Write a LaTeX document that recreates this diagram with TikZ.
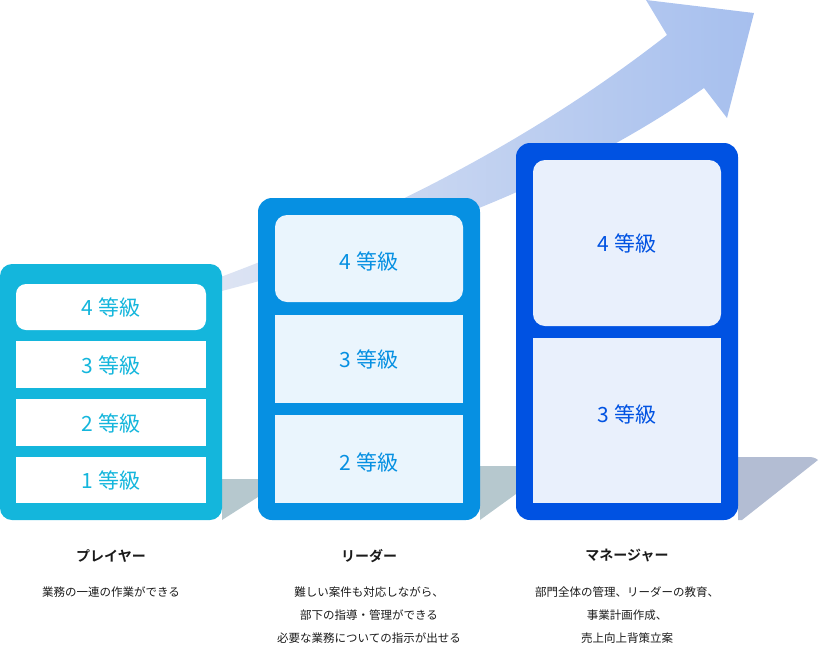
\documentclass[tikz,border=0pt]{standalone}
\usepackage{fontspec}
\setmainfont{Noto Sans CJK JP}
\newfontfamily\jpb{Noto Sans CJK JP Bold}
\definecolor{cpl}{HTML}{14B6DC}
\definecolor{cld}{HTML}{0690E2}
\definecolor{cmg}{HTML}{0052E2}
\definecolor{fld}{HTML}{EAF5FD}
\definecolor{fmg}{HTML}{E9F0FC}
\definecolor{sh1}{HTML}{B6C8CE}
\definecolor{sh2}{HTML}{B3BDD3}
\definecolor{ar1}{HTML}{DDE4F3}
\definecolor{ar2}{HTML}{A6BFEE}
\definecolor{txt}{HTML}{1A1A1A}
\begin{document}
\begin{tikzpicture}[x=1pt,y=-1pt,
  grade/.style={font=\fontsize{21}{21}\selectfont},
  title/.style={font=\jpb\fontsize{14}{14}\selectfont, text=txt},
  desc/.style={font=\fontsize{11.5}{23}\selectfont, text=txt, align=center}]
\useasboundingbox (0,0) rectangle (820,646);
% shadows
\fill[sh1] (222,479) -- (258,479) -- (258,497) -- (222,520) -- cycle;
\fill[sh1] (480,466) -- (516,466) -- (516,494) -- (480,520) -- cycle;
\fill[sh2] (738,457) -- (808,457) to[out=0,in=140] (818,460) -- (742,520) -- (738,520) -- cycle;
% arrow
\shade[left color=ar1, right color=ar2]
  (218,278) .. controls (360,225) and (520,150) .. (667,35)
  -- (646,0) -- (754,13) -- (727,118) -- (704,88)
  .. controls (560,190) and (380,250) .. (218,292) -- cycle;
% player
\fill[cpl, rounded corners=12pt] (0,520) -- (0,264) -- (222,264) -- (222,520) -- cycle;
\fill[white, rounded corners=10pt] (16,330) -- (16,284) -- (206,284) -- (206,330) -- cycle;
\fill[white] (16,341) rectangle (206,388);
\fill[white] (16,399) rectangle (206,446);
\fill[white] (16,457) rectangle (206,503);
\node[grade,text=cpl] (p4) at (111,307) {4 等級};
\node[grade,text=cpl] (p3) at (111,365) {3 等級};
\node[grade,text=cpl] (p2) at (111,423) {2 等級};
\node[grade,text=cpl] (p1) at (111,480) {1 等級};
% leader
\fill[cld, rounded corners=14pt] (258,520) -- (258,198) -- (480,198) -- (480,520) -- cycle;
\fill[fld, rounded corners=12pt] (275,302) -- (275,215) -- (463,215) -- (463,302) -- cycle;
\fill[fld] (275,315) rectangle (463,403);
\fill[fld] (275,415) rectangle (463,503);
\node[grade,text=cld] (l4) at (369,261) {4 等級};
\node[grade,text=cld] (l3) at (369,359) {3 等級};
\node[grade,text=cld] (l2) at (369,462) {2 等級};
% manager
\fill[cmg, rounded corners=14pt] (516,520) -- (516,143) -- (738,143) -- (738,520) -- cycle;
\fill[fmg, rounded corners=12pt] (533,326) -- (533,160) -- (721,160) -- (721,326) -- cycle;
\fill[fmg] (533,338) rectangle (721,503);
\node[grade,text=cmg] (m4) at (627,243) {4 等級};
\node[grade,text=cmg] (m3) at (627,414) {3 等級};
% titles
\node[title] (tp) at (111,556) {プレイヤー};
\node[title] (tl) at (369,556) {リーダー};
\node[title] (tm) at (627,556) {マネージャー};
\node[desc,anchor=north] (dp) at (111,583) {業務の一連の作業ができる};
\node[desc,anchor=north] (dl) at (369,583) {難しい案件も対応しながら、\\部下の指導・管理ができる\\必要な業務についての指示が出せる};
\node[desc,anchor=north] (dm) at (627,583) {部門全体の管理、リーダーの教育、\\事業計画作成、\\売上向上背策立案};
\end{tikzpicture}
\end{document}
